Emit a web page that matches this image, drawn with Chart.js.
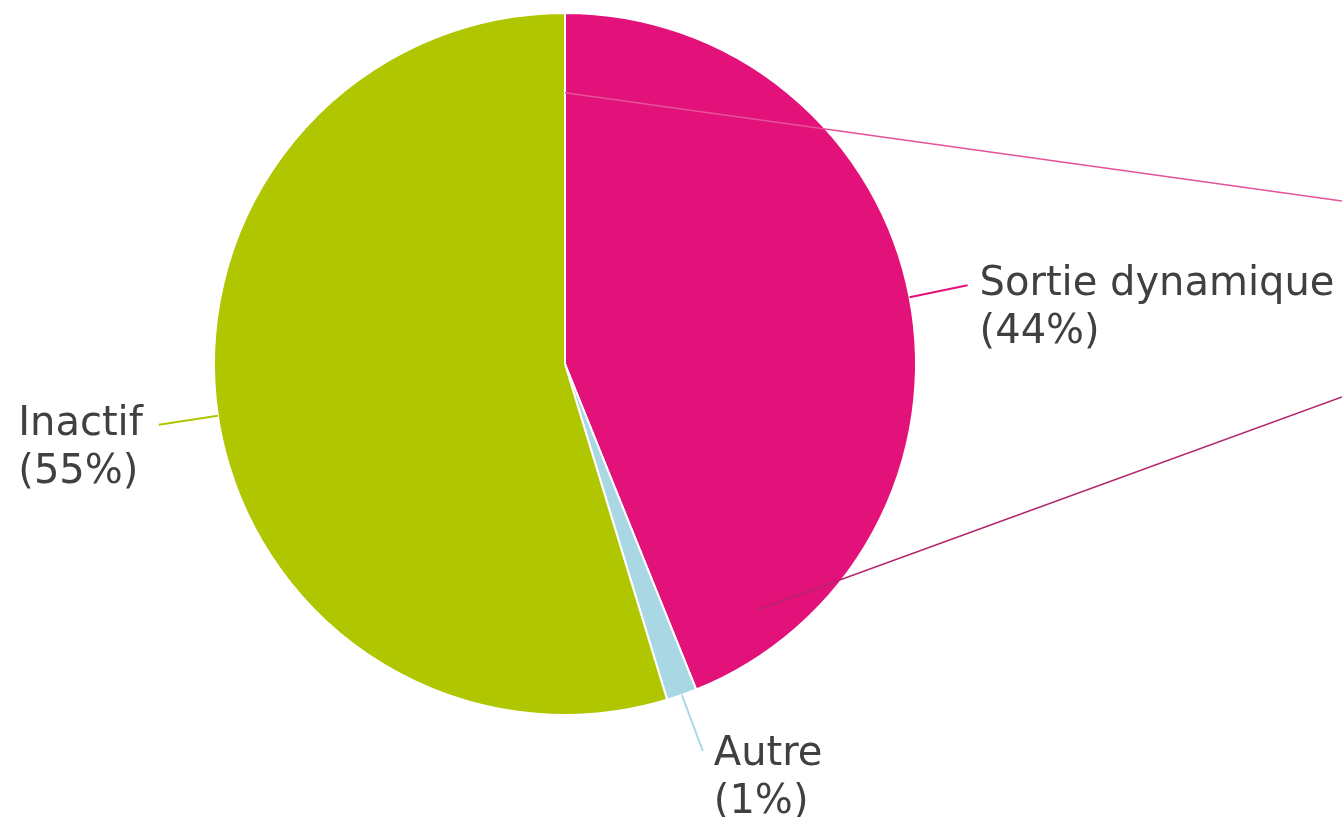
<!DOCTYPE html>
<html><head><meta charset="utf-8">
<script src="https://cdn.jsdelivr.net/npm/chart.js@4/dist/chart.umd.min.js"></script>
<style>html,body{margin:0;padding:0;background:#fff;}#wrap{width:1342px;height:817px;}</style>
</head><body><div id="wrap"><canvas id="c" width="1342" height="817"></canvas></div>
<script>
const categories = ['Sortie dynamique', 'Autre', 'Inactif'];
const values = [43.9, 1.4, 54.7];
const colors = ['#e3117a', '#a9d8e4', '#afc600'];
const leaderColors = ['#e3117a', '#a9d8e4', '#afc600'];

const labelPlugin = {
  id: 'pieLabels',
  afterDatasetsDraw(chart, args, opts) {
    const ctx = chart.ctx;
    const meta = chart.getDatasetMeta(0);
    const total = values.reduce((a, b) => a + b, 0);
    const arc0 = meta.data[0];
    const cx = arc0.x, cy = arc0.y, R = arc0.outerRadius;
    ctx.save();
    ctx.lineWidth = 1.6;
    opts.connectors.forEach(cn => {
      ctx.strokeStyle = cn.color;
      ctx.beginPath();
      ctx.moveTo(cx + cn.from[0] * R, cy + cn.from[1] * R);
      ctx.lineTo(cn.to[0], cn.to[1]);
      ctx.stroke();
    });
    ctx.restore();

    ctx.save();
    ctx.font = '40px "DejaVu Sans", Verdana, sans-serif';
    ctx.fillStyle = '#404040';
    ctx.textBaseline = 'alphabetic';
    meta.data.forEach((arc, i) => {
      const mid = (arc.startAngle + arc.endAngle) / 2;
      const sx = cx + Math.cos(mid) * R, sy = cy + Math.sin(mid) * R;
      const o = opts.offsets[i];
      const ex = sx + o[0], ey = sy + o[1];
      ctx.strokeStyle = leaderColors[i];
      ctx.lineWidth = 2;
      ctx.beginPath(); ctx.moveTo(sx, sy); ctx.lineTo(ex, ey); ctx.stroke();
      const lines = [categories[i], '(' + Math.round(values[i] / total * 100) + '%)'];
      const w = Math.max(...lines.map(l => ctx.measureText(l).width));
      let tx;
      if (o[0] < 0) tx = ex - 16 - w; else tx = ex + o[2];
      const ty = ey + o[3];
      lines.forEach((l, k) => ctx.fillText(l, tx, ty + k * 48));
    });
    ctx.restore();
  }
};

new Chart(document.getElementById('c'), {
  type: 'pie',
  data: {
    labels: categories,
    datasets: [{ data: values, backgroundColor: colors, borderColor: '#ffffff', borderWidth: 2 }]
  },
  options: {
    responsive: false,
    animation: false,
    layout: { padding: { top: 12, bottom: 101, left: 0, right: 212 } },
    plugins: {
      legend: { display: false },
      tooltip: { enabled: false },
      pieLabels: {
        offsets: [[58, -12, 12, 10], [21, 56, 11, 14], [-59, 9, 0, 10]],
        connectors: [
          { from: [0, -0.773], to: [1342, 201], color: '#e6529a' },
          { from: [0.554, 0.699], to: [1342, 397], color: '#b3266c' }
        ]
      }
    }
  },
  plugins: [labelPlugin]
});
</script></body></html>
